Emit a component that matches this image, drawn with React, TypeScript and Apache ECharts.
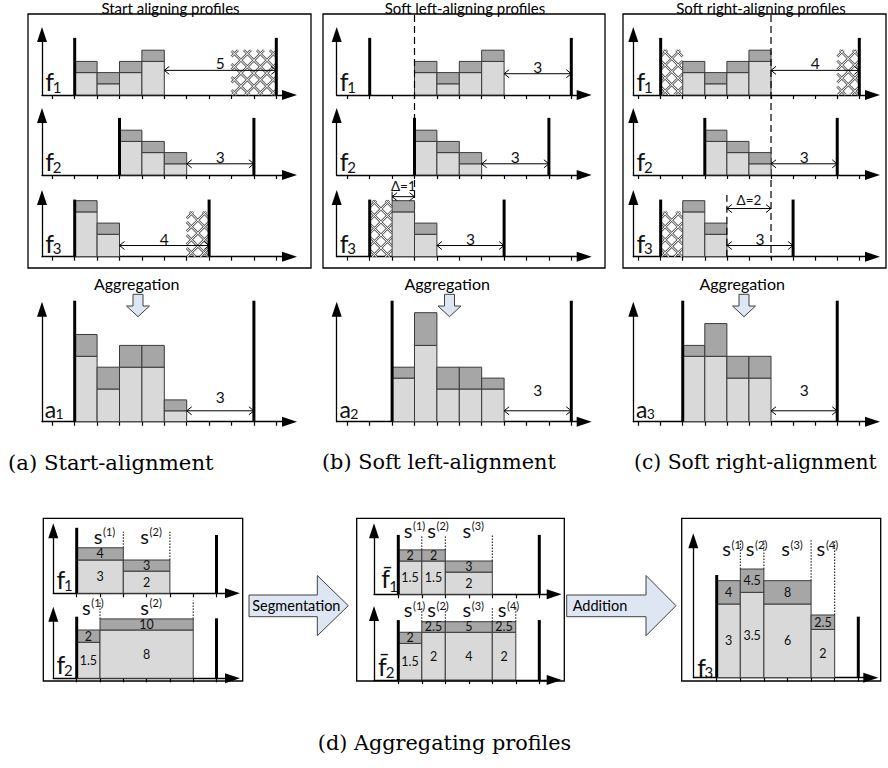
import React, { useEffect, useRef } from "react";
import * as echarts from "echarts";

// ================= DATA =================
// Stacked profiles: light part (LOW) and total height incl. dark part (HIGH), per time slot
const F1_LOW = [2, 1, 2, 3];
const F1_HIGH = [3, 2, 3, 4];
const F2_LOW = [3, 2, 1];
const F2_HIGH = [4, 3, 2];
const F3_LOW = [4, 2];
const F3_HIGH = [5, 3];

// Flexibility windows [earliest start, latest end] of f1, f2, f3
const WINDOWS = [[1, 10], [3, 9], [1, 7]];

// First slot of f1, f2, f3 under each alignment
const START_ALIGN = [1, 3, 1];
const SOFT_LEFT_ALIGN = [3, 3, 2];
const SOFT_RIGHT_ALIGN = [2, 3, 2];

// Cross-hatched slots [from, to, height] of f1, f2, f3
const HATCH_START = [[[8, 10, 4]], [], [[6, 7, 4]]];
const HATCH_LEFT = [[], [], [[1, 2, 5]]];
const HATCH_RIGHT = [[[1, 2, 4], [9, 10, 4]], [], [[1, 2, 4]]];

// Alignment markers
const LEFT_ALIGN_AT = 3;
const RIGHT_ALIGN_AT = 6;
const DELTA_LEFT = [2, 3];
const DELTA_RIGHT = [4, 6];

// Aggregated profiles a1, a2, a3
const A1_LOW = [6, 3, 5, 5, 1];
const A1_HIGH = [8, 5, 7, 7, 2];
const A2_LOW = [4, 7, 3, 3, 3];
const A2_HIGH = [5, 10, 5, 5, 4];
const A3_LOW = [6, 6, 4, 4];
const A3_HIGH = [7, 9, 6, 6];
const AGG_STARTS = [1, 2, 2];
const AGG_WINDOWS = [[1, 9], [2, 10], [2, 9]];

// (d) segments [from, to], labelled values and drawn (schematic) heights
const D1_F1_SEGS = [[0, 2], [2, 4]];
const D1_F1_LOW = [3, 2];
const D1_F1_HIGH = [4, 3];
const D1_F1_DRAWN_LOW = [3, 2];
const D1_F1_DRAWN_HIGH = [4.1, 3];

const D1_F2_SEGS = [[0, 1], [1, 5]];
const D1_F2_LOW = [1.5, 8];
const D1_F2_HIGH = [2, 10];
const D1_F2_DRAWN_LOW = [3.25, 4.35];
const D1_F2_DRAWN_HIGH = [4.35, 5.35];

const D2_F1_SEGS = [[0, 1], [1, 2], [2, 4]];
const D2_F1_LOW = [1.5, 1.5, 2];
const D2_F1_HIGH = [2, 2, 3];
const D2_F1_DRAWN_LOW = [3, 3, 2];
const D2_F1_DRAWN_HIGH = [4, 4, 3];

const D2_F2_SEGS = [[0, 1], [1, 2], [2, 4], [4, 5]];
const D2_F2_LOW = [1.5, 2, 4, 2];
const D2_F2_HIGH = [2, 2.5, 5, 2.5];
const D2_F2_DRAWN_LOW = [3.3, 4.3, 4.3, 4.3];
const D2_F2_DRAWN_HIGH = [4.3, 5.25, 5.25, 5.25];

const D3_SEGS = [[0, 1], [1, 2], [2, 4], [4, 5]];
const D3_LOW = [3, 3.5, 6, 2];
const D3_HIGH = [4, 4.5, 8, 2.5];
const D3_DRAWN_LOW = [6.64, 7.69, 6.64, 4.35];
const D3_DRAWN_HIGH = [8.74, 9.79, 8.74, 5.65];
const D_WINDOW = [0, 6];

const TOP_TICKS = [0, 1, 2, 3, 4, 5, 6, 7, 8, 9, 10];
const D_TICKS = [0, 1, 2, 3, 4, 5, 6];

// Texts
const PANEL_TITLES = ["Start aligning profiles", "Soft left-aligning profiles", "Soft right-aligning profiles"];
const CAPTIONS = ["(a) Start-alignment", "(b) Soft left-alignment", "(c) Soft right-alignment"];
const CAPTION_D = "(d) Aggregating profiles";
const AGG_TEXT = "Aggregation";
const SEG_TEXT = "Segmentation";
const ADD_TEXT = "Addition";

// ================= STYLE / LAYOUT =================
const LIGHT = "#d9d9d9";
const DARK = "#a6a6a6";
const EDGE = "#3a3a3a";
const ARROW_FILL = "#dde6f2";
const FONT = "Lato, 'Open Sans', sans-serif";
const SERIF = "'DejaVu Serif', serif";

const TOP_COLS = [
  { axisX: 42, u0: 52.3, unit: 22.4, tipX: 297 },
  { axisX: 336.7, u0: 347.3, unit: 22.4, tipX: 591.7 },
  { axisX: 633.3, u0: 638.6, unit: 22.07, tipX: 880 },
];
const TOP_ROWS = [
  { axisY: 95, tipY: 27 },
  { axisY: 175, tipY: 108 },
  { axisY: 256.7, tipY: 190 },
];
const AGG_ROW = { axisY: 421.7, tipY: 301.7 };
const GAP_Y = [[2.2, 1, 1], [1.9, 1, 1], [2.2, 1, 1]];
const AGG_GAP_OFF = [14, 21, 21];

const D_COLS = [
  { axisX: 53.3, u0: 76.7, unit: 23.3, tipX: 240 },
  { axisX: 374, u0: 398.3, unit: 23.5, tipX: 561.7 },
  { axisX: 693.3, u0: 716.7, unit: 23.6, tipX: 878.3 },
];

const ARROW_HALF = 7.5;

function fmt(v: number) {
  return String(v);
}

function renderShape(s: any, api: any) {
  const P = (x: number, y: number) => api.coord([x, y]);
  const ln = (x1: number, y1: number, x2: number, y2: number, w: number, color = "#000", dash?: number[]) => ({
    type: "line",
    shape: { x1, y1, x2, y2 },
    style: dash ? { stroke: color, lineWidth: w, lineDash: dash } : { stroke: color, lineWidth: w },
  });
  const tx = (x: number, y: number, text: string, size: number, align = "center", family = FONT) => ({
    type: "text",
    x,
    y,
    style: { text, fontSize: size, fontFamily: family, fill: "#111", align, verticalAlign: "middle" },
  });
  switch (s.t) {
    case "bar": {
      const [xa, y0] = P(s.x0, 0);
      const [xb, yl] = P(s.x1, s.lo);
      const yh = P(s.x1, s.hi)[1];
      const ch: any[] = [
        { type: "rect", shape: { x: xa, y: yl, width: xb - xa, height: y0 - yl }, style: { fill: LIGHT, stroke: EDGE, lineWidth: 1 } },
        { type: "rect", shape: { x: xa, y: yh, width: xb - xa, height: yl - yh }, style: { fill: DARK, stroke: EDGE, lineWidth: 1 } },
      ];
      if (s.loText != null) ch.push(tx((xa + xb) / 2, (y0 + yl) / 2, s.loText, 12.5));
      if (s.hiText != null) ch.push(tx((xa + xb) / 2, (yl + yh) / 2, s.hiText, 12.5));
      return { type: "group", children: ch };
    }
    case "vline": {
      const [x, ya] = P(s.x, s.y0);
      const yb = P(s.x, s.y1)[1];
      return ln(x, ya, x, yb, s.w, "#000", s.dash);
    }
    case "hatch": {
      const [L, B] = P(s.x0, 0);
      const [R, T] = P(s.x1, s.h);
      const sp = 13;
      const segs: number[][] = [];
      for (let c = T - R + sp / 2; c < B - L; c += sp) {
        const xs = Math.max(L, T - c);
        const xe = Math.min(R, B - c);
        if (xe > xs + 0.5) segs.push([xs, xs + c, xe, xe + c]);
      }
      for (let c = T + L + sp / 2; c < B + R; c += sp) {
        const xs = Math.max(L, c - B);
        const xe = Math.min(R, c - T);
        if (xe > xs + 0.5) segs.push([xs, c - xs, xe, c - xe]);
      }
      return {
        type: "group",
        children: [
          ...segs.map((g) => ln(g[0], g[1], g[2], g[3], 2.6, "#5e5e5e")),
          ...segs.map((g) => ln(g[0], g[1], g[2], g[3], 1.0, "#ffffff")),
        ],
      };
    }
    case "gap": {
      const [xa, y] = P(s.x0, s.y);
      const xb = P(s.x1, s.y)[0];
      const hx = 5;
      const hy = 4;
      return {
        type: "group",
        children: [
          ln(xa, y, xb, y, 1),
          { type: "polyline", shape: { points: [[xa + hx, y - hy], [xa, y], [xa + hx, y + hy]] }, style: { stroke: "#000", lineWidth: 1, fill: "none" } },
          { type: "polyline", shape: { points: [[xb - hx, y - hy], [xb, y], [xb - hx, y + hy]] }, style: { stroke: "#000", lineWidth: 1, fill: "none" } },
          tx((xa + xb) / 2, y - s.off, s.text, s.size || 15.5),
        ],
      };
    }
    case "name": {
      const [ox, oy] = P(s.xmin, 0);
      return {
        type: "group",
        children: [
          tx(ox + s.fdx, oy + s.fdy, s.main, s.fsize),
          tx(ox + s.sdx, oy + s.sdy, s.sub, s.ssize),
        ],
      };
    }
    case "seg": {
      const [cx, cy] = P(s.x, s.y);
      return {
        type: "group",
        children: [tx(cx - 2, cy - 2.7, "s", 20), tx(cx + 3, cy - 6.5, "(" + s.n + ")", 11, "left")],
      };
    }
  }
  return null;
}

function buildOption() {
  const grids: any[] = [];
  const add = (col: any, row: any, yunit: number, ticks: number[], shapes: any[]) => {
    const xmin = (col.axisX - col.u0) / col.unit;
    const width = col.tipX - ARROW_HALF - col.axisX;
    const xmax = xmin + width / col.unit;
    const top = row.tipY + ARROW_HALF;
    const height = row.axisY - top;
    const ymax = height / yunit;
    shapes.forEach((s) => {
      if (s.t === "name") s.xmin = xmin;
    });
    grids.push({ left: col.axisX, top, width, height, xmin, xmax, ymax, ticks, shapes });
  };
  const fName = (sub: string) => ({ t: "name", main: "f", sub, fsize: 25, ssize: 15, fdx: 7.5, fdy: -14, sdx: 15, sdy: -8.5 });

  // ---- top panels (a), (b), (c)
  const ALIGNS = [START_ALIGN, SOFT_LEFT_ALIGN, SOFT_RIGHT_ALIGN];
  const HATCHES = [HATCH_START, HATCH_LEFT, HATCH_RIGHT];
  const LOWS = [F1_LOW, F2_LOW, F3_LOW];
  const HIGHS = [F1_HIGH, F2_HIGH, F3_HIGH];
  for (let p = 0; p < 3; p++) {
    for (let r = 0; r < 3; r++) {
      const shapes: any[] = [];
      HATCHES[p][r].forEach(([a, b, h]) => shapes.push({ t: "hatch", x0: a, x1: b, h }));
      const st = ALIGNS[p][r];
      LOWS[r].forEach((lo, k) => shapes.push({ t: "bar", x0: st + k, x1: st + k + 1, lo, hi: HIGHS[r][k] }));
      const [ws, we] = WINDOWS[r];
      shapes.push({ t: "vline", x: ws, y0: 0, y1: 5.1, w: 3 });
      shapes.push({ t: "vline", x: we, y0: 0, y1: 5.1, w: 3 });
      const end = st + LOWS[r].length;
      shapes.push({ t: "gap", x0: end, x1: we, y: GAP_Y[p][r], text: String(we - end), off: 7 });
      shapes.push(fName(String(r + 1)));
      if (p === 1 && r === 0) shapes.push({ t: "vline", x: LEFT_ALIGN_AT, y0: 7.15, y1: -14.6, w: 1.2, dash: [7, 4] });
      if (p === 2 && r === 0) shapes.push({ t: "vline", x: RIGHT_ALIGN_AT, y0: 7.15, y1: -14.6, w: 1.2, dash: [7, 4] });
      if (p === 1 && r === 2) {
        shapes.push({ t: "vline", x: DELTA_LEFT[0], y0: 5.0, y1: 5.8, w: 1 });
        shapes.push({ t: "gap", x0: DELTA_LEFT[0], x1: DELTA_LEFT[1], y: 5.36, text: "Δ=" + (DELTA_LEFT[1] - DELTA_LEFT[0]), off: 11, size: 13.5 });
      }
      if (p === 2 && r === 2) {
        shapes.push({ t: "vline", x: DELTA_RIGHT[0], y0: 0, y1: 5.5, w: 1.2, dash: [7, 4] });
        shapes.push({ t: "gap", x0: DELTA_RIGHT[0], x1: DELTA_RIGHT[1], y: 4.3, text: "Δ=" + (DELTA_RIGHT[1] - DELTA_RIGHT[0]), off: 8.5, size: 13.5 });
      }
      add(TOP_COLS[p], TOP_ROWS[r], 11.2, TOP_TICKS, shapes);
    }
  }

  // ---- aggregation row
  const ALOWS = [A1_LOW, A2_LOW, A3_LOW];
  const AHIGHS = [A1_HIGH, A2_HIGH, A3_HIGH];
  for (let p = 0; p < 3; p++) {
    const shapes: any[] = [];
    const st = AGG_STARTS[p];
    ALOWS[p].forEach((lo, k) => shapes.push({ t: "bar", x0: st + k, x1: st + k + 1, lo, hi: AHIGHS[p][k] }));
    const [ws, we] = AGG_WINDOWS[p];
    shapes.push({ t: "vline", x: ws, y0: 0, y1: 11.1, w: 3 });
    shapes.push({ t: "vline", x: we, y0: 0, y1: 11.1, w: 3 });
    const end = st + ALOWS[p].length;
    shapes.push({ t: "gap", x0: end, x1: we, y: 1, text: String(we - end), off: AGG_GAP_OFF[p] });
    shapes.push({ t: "name", main: "a", sub: String(p + 1), fsize: 23, ssize: 14, fdx: 8.5, fdy: -12.5, sdx: 17.5, sdy: -8.5 });
    add(TOP_COLS[p], AGG_ROW, 10.9, TOP_TICKS, shapes);
  }

  // ---- (d)
  const dRow = (segs: number[][], dLo: number[], dHi: number[], vLo: number[], vHi: number[], startTop: number, endTop: number, sY: number, dTop: number, name: any) => {
    const shapes: any[] = [];
    segs.forEach((sg, k) => shapes.push({ t: "bar", x0: sg[0], x1: sg[1], lo: dLo[k], hi: dHi[k], loText: fmt(vLo[k]), hiText: fmt(vHi[k]) }));
    shapes.push({ t: "vline", x: D_WINDOW[0], y0: 0, y1: startTop, w: 3 });
    shapes.push({ t: "vline", x: D_WINDOW[1], y0: 0, y1: endTop, w: 3 });
    segs.forEach((sg, k) => {
      const bottom = Math.max(dHi[k], k + 1 < segs.length ? dHi[k + 1] : 0);
      shapes.push({ t: "vline", x: sg[1], y0: bottom, y1: dTop, w: 1, dash: [1.5, 1.5] });
      shapes.push({ t: "seg", x: (sg[0] + sg[1]) / 2, y: sY, n: k + 1 });
    });
    shapes.push(name);
    return shapes;
  };
  add(D_COLS[0], { axisY: 593.3, tipY: 523.3 }, 11.1, D_TICKS,
    dRow(D1_F1_SEGS, D1_F1_DRAWN_LOW, D1_F1_DRAWN_HIGH, D1_F1_LOW, D1_F1_HIGH, 5.9, 5.25, 4.96, 5.55, fName("1")));
  add(D_COLS[0], { axisY: 678.3, tipY: 606.7 }, 11.1, D_TICKS,
    dRow(D1_F2_SEGS, D1_F2_DRAWN_LOW, D1_F2_DRAWN_HIGH, D1_F2_LOW, D1_F2_HIGH, 5.55, 5.4, 6.2, 7.0, fName("2")));
  add(D_COLS[1], { axisY: 594.3, tipY: 523.3 }, 11.1, D_TICKS,
    dRow(D2_F1_SEGS, D2_F1_DRAWN_LOW, D2_F1_DRAWN_HIGH, D2_F1_LOW, D2_F1_HIGH, 5.35, 5.35, 5.57, 5.35,
      { t: "name", main: "f\u0304", sub: "1", fsize: 25, ssize: 15, fdx: 11.5, fdy: -16, sdx: 19.5, sdy: -8 }));
  add(D_COLS[1], { axisY: 680, tipY: 606 }, 11.1, D_TICKS,
    dRow(D2_F2_SEGS, D2_F2_DRAWN_LOW, D2_F2_DRAWN_HIGH, D2_F2_LOW, D2_F2_HIGH, 5.4, 5.4, 6.15, 6.5,
      { t: "name", main: "f\u0304", sub: "2", fsize: 25, ssize: 15, fdx: 8.4, fdy: -14.2, sdx: 16, sdy: -8.3 }));
  add(D_COLS[2], { axisY: 677.7, tipY: 533.3 }, 11.1, D_TICKS,
    dRow(D3_SEGS, D3_DRAWN_LOW, D3_DRAWN_HIGH, D3_LOW, D3_HIGH, 9.25, 5.5, 11.4, 12.4,
      { t: "name", main: "f", sub: "3", fsize: 25, ssize: 15, fdx: 8.4, fdy: -10.5, sdx: 15.5, sdy: -6 }));

  const axisLine = { color: "#000", width: 1.3 };

  // ---- decorations (graphic)
  const g: any[] = [];
  const rect = (x: number, y: number, w: number, h: number) => ({ type: "rect", shape: { x, y, width: w, height: h }, style: { fill: "none", stroke: "#000", lineWidth: 1.3 }, silent: true });
  const text = (x: number, y: number, t: string, size: number, align = "center", family = FONT) => ({
    type: "text", x, y, silent: true,
    style: { text: t, fontSize: size, fontFamily: family, fill: "#000", align, verticalAlign: "middle" },
  });
  g.push(rect(28, 14, 283, 254), rect(323, 14, 282, 254), rect(623, 14, 263, 254));
  const titleX = [170.5, 465, 761];
  PANEL_TITLES.forEach((t, i) => g.push(text(titleX[i], 7.5, t, 15)));
  const aggTextX = [136.7, 447.2, 742.2];
  const aggArrowX = [138, 449.5, 744];
  for (let i = 0; i < 3; i++) {
    g.push(text(aggTextX[i], 283.5, AGG_TEXT, 16));
    const c = aggArrowX[i];
    g.push({
      type: "polygon", silent: true,
      shape: { points: [[c - 5, 294.3], [c + 5, 294.3], [c + 5, 306], [c + 11.5, 306], [c, 316.7], [c - 11.5, 306], [c - 5, 306]] },
      style: { fill: ARROW_FILL, stroke: "#404040", lineWidth: 1 },
    });
  }
  const capX = [8, 322, 634];
  const capSize = [21.2, 20.8, 20.3];
  CAPTIONS.forEach((t, i) => g.push(text(capX[i], 462, t, capSize[i], "left", SERIF)));
  g.push(text(444.5, 743, CAPTION_D, 20.8, "center", SERIF));

  g.push(rect(43.3, 518.3, 199.4, 162.7), rect(356.7, 518.3, 207.6, 162.7), rect(681.7, 518.3, 199, 162.7));
  const blockArrow = (x0: number, xNeck: number, xTip: number) => ({
    type: "polygon", silent: true,
    shape: { points: [[x0, 595], [xNeck, 595], [xNeck, 575.5], [xTip, 605.7], [xNeck, 635.7], [xNeck, 616.7], [x0, 616.7]] },
    style: { fill: ARROW_FILL, stroke: "#404040", lineWidth: 1 },
  });
  g.push(blockArrow(249, 317.3, 348.3), text(252.3, 605.5, SEG_TEXT, 14.5, "left"));
  g.push(blockArrow(566.7, 646, 676), text(572.7, 605.5, ADD_TEXT, 14.5, "left"));

  return {
    animation: false,
    backgroundColor: "#fff",
    grid: grids.map((gr) => ({ left: gr.left, top: gr.top, width: gr.width, height: gr.height, containLabel: false })),
    xAxis: grids.map((gr, i) => ({
      type: "value", gridIndex: i, min: gr.xmin, max: gr.xmax,
      axisLine: { show: true, onZero: true, symbol: ["none", "triangle"], symbolSize: [10, 15], lineStyle: axisLine },
      axisTick: { show: true, customValues: gr.ticks, length: 4, lineStyle: { color: "#000", width: 1.2 } },
      axisLabel: { show: false },
      splitLine: { show: false },
    })),
    yAxis: grids.map((gr, i) => ({
      type: "value", gridIndex: i, min: 0, max: gr.ymax,
      axisLine: { show: true, onZero: false, symbol: ["none", "triangle"], symbolSize: [10, 15], lineStyle: axisLine },
      axisTick: { show: false },
      axisLabel: { show: false },
      splitLine: { show: false },
    })),
    series: grids.map((gr, i) => ({
      type: "custom", xAxisIndex: i, yAxisIndex: i, clip: false, silent: true,
      data: gr.shapes.map((_: any, k: number) => [0, 0, k]),
      renderItem: (params: any, api: any) => renderShape(gr.shapes[params.dataIndex], api),
    })),
    graphic: g,
  };
}

export default function App() {
  const ref = useRef<HTMLDivElement>(null);
  useEffect(() => {
    const chart = echarts.init(ref.current!, undefined, { renderer: "svg" });
    chart.setOption(buildOption() as any);
    return () => chart.dispose();
  }, []);
  return <div ref={ref} style={{ position: "absolute", left: 0, top: 0, width: 888, height: 768, background: "#fff" }} />;
}
